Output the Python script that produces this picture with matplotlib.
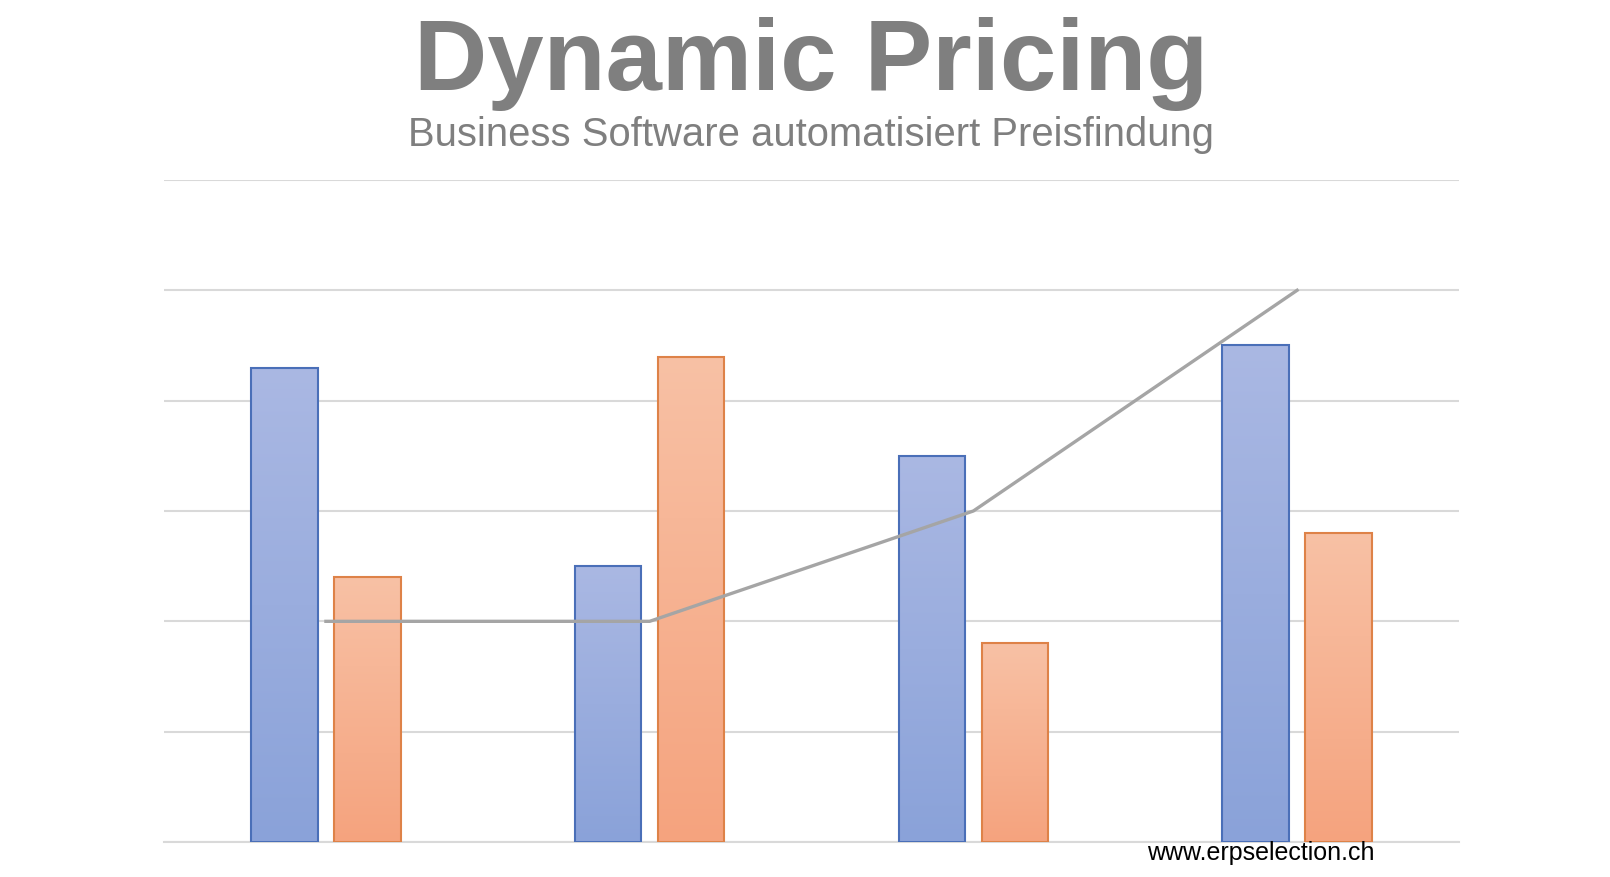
"""
Dynamic Pricing chart: two bar series with per-bar vertical gradients
and a grey line series, Excel-style.
"""
import matplotlib
matplotlib.use("Agg")
import matplotlib.pyplot as plt
import numpy as np
from matplotlib.colors import LinearSegmentedColormap


# ---------------- data ------------------------------------------------------
CATEGORIES = ["Kategorie 1", "Kategorie 2", "Kategorie 3", "Kategorie 4"]
SERIES_1 = [4.3, 2.5, 3.5, 4.5]
SERIES_2 = [2.4, 4.4, 1.8, 2.8]
SERIES_3 = [2.0, 2.0, 3.0, 5.0]

TITLE = "Dynamic Pricing"
SUBTITLE = "Business Software automatisiert Preisfindung"
SOURCE = "www.erpselection.ch"


def gradient_bars(ax, bars, top_color, bottom_color):
    cmap = LinearSegmentedColormap.from_list("g", [bottom_color, top_color])
    grad = np.linspace(0, 1, 256).reshape(-1, 1)
    for b in bars:
        x0, y0 = b.get_x(), b.get_y()
        w, h = b.get_width(), b.get_height()
        im = ax.imshow(grad, cmap=cmap, aspect="auto", origin="lower",
                       extent=(x0, x0 + w, y0, y0 + h), zorder=2,
                       interpolation="bilinear")
        im.set_clip_path(b)


def main() -> None:
    plt.rcParams["font.family"] = ["Liberation Sans", "DejaVu Sans"]
    fig = plt.figure(figsize=(16.1, 8.77), dpi=100)
    ax = fig.add_axes([0.1019, 0.0399, 0.8043, 0.7549])

    x = np.arange(len(CATEGORIES))
    bw = 0.205
    off = 0.128

    b1 = ax.bar(x - off, SERIES_1, bw, facecolor="none",
                edgecolor="#4a6fb8", linewidth=1.5, zorder=3)
    b2 = ax.bar(x + off, SERIES_2, bw, facecolor="none",
                edgecolor="#de8248", linewidth=1.5, zorder=3)
    gradient_bars(ax, b1, "#aab8e3", "#8aa2d9")
    gradient_bars(ax, b2, "#f8c1a5", "#f5a37e")

    ax.plot(x, SERIES_3, color="#a5a5a5", linewidth=2.4, zorder=4,
            solid_joinstyle="miter")

    ax.set_xlim(-0.5, len(CATEGORIES) - 0.5)
    ax.set_ylim(0, 6)
    ax.set_yticks(np.arange(0, 7, 1))
    ax.grid(True, axis="y", color="#d9d9d9", linewidth=1.5, zorder=0)
    ax.set_axisbelow(True)
    ax.tick_params(left=False, bottom=False, labelleft=False,
                   labelbottom=False)
    for s in ["left", "right", "top"]:
        ax.spines[s].set_visible(False)
    ax.spines["bottom"].set_color("#d9d9d9")
    ax.spines["bottom"].set_linewidth(1.5)

    fig.text(0.504, 0.897, TITLE, ha="center", va="baseline",
             fontsize=73, fontweight="bold", color="#7f7f7f")
    fig.text(0.504, 0.834, SUBTITLE, ha="center", va="baseline",
             fontsize=28.8, color="#7f7f7f")
    fig.text(0.783, 0.019, SOURCE, ha="center", va="baseline",
             fontsize=18, color="black")

    fig.savefig("out.png", dpi=100)
    plt.close(fig)


if __name__ == "__main__":
    main()
